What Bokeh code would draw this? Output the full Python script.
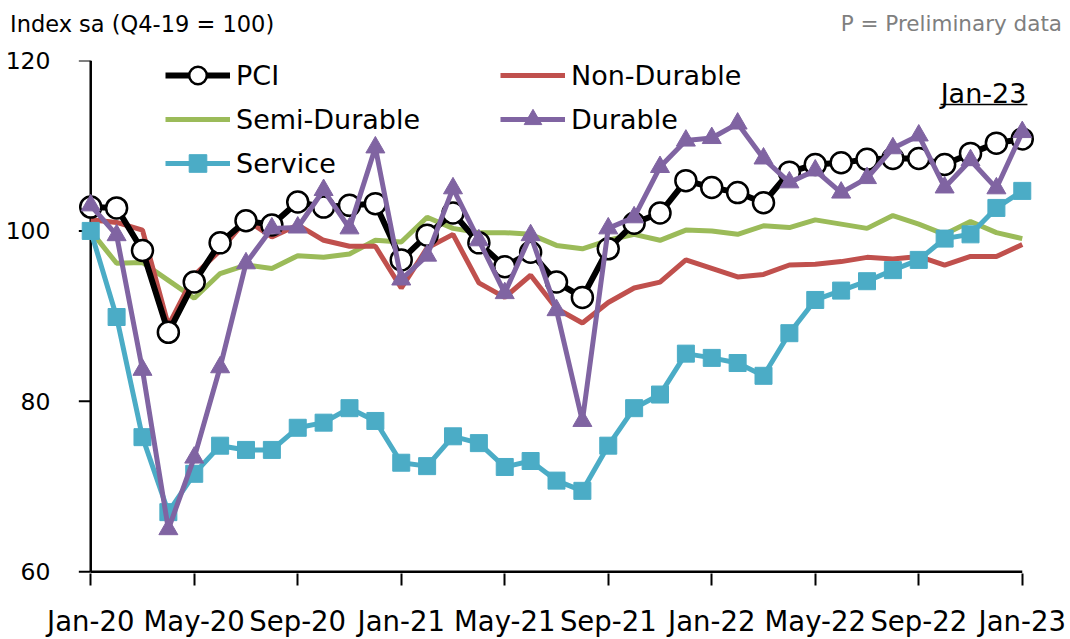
from bokeh.plotting import figure
from bokeh.models import Range1d, FixedTicker, Legend, LegendItem, Label, Div
from bokeh.layouts import column
from bokeh.embed import file_html
from bokeh.resources import INLINE

months = ["Jan-20", "Feb-20", "Mar-20", "Apr-20", "May-20", "Jun-20", "Jul-20", "Aug-20",
          "Sep-20", "Oct-20", "Nov-20", "Dec-20",
          "Jan-21", "Feb-21", "Mar-21", "Apr-21", "May-21", "Jun-21", "Jul-21", "Aug-21",
          "Sep-21", "Oct-21", "Nov-21", "Dec-21",
          "Jan-22", "Feb-22", "Mar-22", "Apr-22", "May-22", "Jun-22", "Jul-22", "Aug-22",
          "Sep-22", "Oct-22", "Nov-22", "Dec-22",
          "Jan-23"]

pci = [102.8, 102.7, 97.7, 88.1, 94.0, 98.6, 101.2, 100.7, 103.4, 102.8, 103.0, 103.2,
       96.6, 99.5, 102.1, 98.6, 95.8, 97.5, 94.0, 92.2, 97.9, 100.9, 102.1, 105.9,
       105.1, 104.5, 103.3, 106.9, 107.8, 108.0, 108.4, 108.5, 108.5, 107.8, 109.1, 110.3,
       110.8]
non_durable = [101.3, 101.0, 100.1, 88.9, 94.8, 97.7, 101.3, 99.3, 100.7, 98.9, 98.2, 98.2,
               93.3, 98.0, 99.6, 93.9, 92.2, 94.8, 90.9, 89.2, 91.6, 93.3, 94.0, 96.6,
               95.6, 94.6, 94.9, 96.0, 96.1, 96.4, 96.9, 96.7, 97.0, 96.0, 97.0, 97.0,
               98.4]
semi_durable = [100.0, 96.2, 96.3, 94.2, 92.1, 95.0, 96.0, 95.6, 97.1, 96.9, 97.3, 98.9,
                98.7, 101.6, 100.3, 99.8, 99.8, 99.6, 98.3, 97.9, 98.9, 99.6, 98.9, 100.1,
                100.0, 99.6, 100.6, 100.4, 101.3, 100.8, 100.3, 101.8, 100.8, 99.6, 101.1, 99.8,
                99.1]
durable = [103.0, 99.5, 83.7, 65.0, 73.4, 84.0, 96.2, 100.3, 100.4, 104.8, 100.3, 109.8,
           94.3, 97.1, 105.0, 98.9, 92.7, 99.5, 90.7, 77.7, 100.3, 101.6, 107.5, 110.6,
           110.9, 112.6, 108.5, 105.7, 107.1, 104.5, 106.2, 109.7, 111.2, 105.1, 108.3, 105.0,
           111.6]
service = [100.0, 89.9, 75.8, 67.0, 71.5, 74.8, 74.3, 74.3, 76.9, 77.5, 79.2, 77.7,
           72.8, 72.4, 75.9, 75.1, 72.3, 73.0, 70.7, 69.5, 74.8, 79.2, 80.8, 85.6,
           85.1, 84.5, 83.0, 88.0, 91.9, 93.0, 94.1, 95.4, 96.6, 99.1, 99.6, 102.7,
           104.7]

y_ticks = [60, 80, 100, 120]
x_ticks = list(range(0, len(months), 4))

FONT = "DejaVu Sans"
x = list(range(len(months)))
n_last = len(months) - 1

header = Div(
    text=('<div style="display:flex;justify-content:space-between;align-items:center;'
          'box-sizing:border-box;width:1070px;height:32px;margin-top:8px;'
          'padding-left:10px;padding-right:8px;font-family:\'DejaVu Sans\';">'
          '<span style="font-size:22.5px;color:black;">Index sa (Q4-19 = 100)</span>'
          '<span style="font-size:21.5px;color:#7F7F7F;">P = Preliminary data</span></div>'),
    width=1070, height=40, margin=0)

p = figure(width=1070, height=599, output_backend="svg", toolbar_location=None,
           x_range=Range1d(-0.55, n_last + 0.55), y_range=Range1d(59.8, 120),
           min_border_left=76, min_border_right=34, min_border_top=20, min_border_bottom=66,
           margin=0)
p.outline_line_color = None
p.xgrid.visible = False
p.ygrid.visible = False
p.background_fill_color = "white"

# axes
p.yaxis.ticker = FixedTicker(ticks=y_ticks)
p.yaxis.axis_line_color = None
p.yaxis.major_tick_line_color = None
p.yaxis.minor_tick_line_color = None
p.yaxis.major_label_text_font = FONT
p.yaxis.major_label_text_font_size = "23.5px"
p.yaxis.major_label_text_color = "black"
p.yaxis.major_label_standoff = 20

p.xaxis.ticker = FixedTicker(ticks=x_ticks)
p.xaxis.major_label_overrides = {t: months[t] for t in x_ticks}
p.xaxis.axis_line_color = None
p.xaxis.major_tick_out = 12
p.xaxis.major_tick_in = 0
p.xaxis.major_tick_line_width = 2
p.xaxis.major_tick_line_color = "black"
p.xaxis.minor_tick_line_color = None
p.xaxis.major_label_text_font = FONT
p.xaxis.major_label_text_font_size = "27.5px"
p.xaxis.major_label_text_color = "black"
p.xaxis.major_label_standoff = 19

# axis lines and y ticks drawn in data space
p.segment(x0=[0], y0=[y_ticks[0]], x1=[0], y1=[y_ticks[-1]], line_color="black", line_width=2.5)
p.segment(x0=[0], y0=[y_ticks[0]], x1=[n_last], y1=[y_ticks[0]], line_color="black", line_width=2.5)
p.segment(x0=[-0.46] * len(y_ticks), y0=y_ticks, x1=[0] * len(y_ticks), y1=y_ticks,
          line_color="black", line_width=2)

GREEN = "#9BBB59"
RED = "#C0504D"
PURPLE = "#8064A2"
TEAL = "#4BACC6"

g_line = p.line(x, semi_durable, line_color=GREEN, line_width=5)
r_line = p.line(x, non_durable, line_color=RED, line_width=5)
k_line = p.line(x, pci, line_color="black", line_width=6)
k_pts = p.scatter(x, pci, marker="circle", size=21, fill_color="white",
                  line_color="black", line_width=2.5)
s_line = p.line(x, service, line_color=TEAL, line_width=5)
s_pts = p.scatter(x, service, marker="square", size=17, fill_color=TEAL, line_color=TEAL)
d_line = p.line(x, durable, line_color=PURPLE, line_width=5)
d_pts = p.scatter(x, durable, marker="triangle", size=19, fill_color=PURPLE, line_color=PURPLE)

leg_style = dict(border_line_color=None, background_fill_alpha=0, padding=0, margin=0,
                 spacing=0, label_height=44, glyph_height=44, glyph_width=65,
                 label_standoff=6, label_text_font=FONT, label_text_font_size="27px",
                 label_text_color="black")
leg1 = Legend(items=[LegendItem(label="PCI", renderers=[k_line, k_pts]),
                     LegendItem(label="Semi-Durable", renderers=[g_line]),
                     LegendItem(label="Service", renderers=[s_line, s_pts])],
              location=(89, 388), **leg_style)
leg2 = Legend(items=[LegendItem(label="Non-Durable", renderers=[r_line]),
                     LegendItem(label="Durable", renderers=[d_line, d_pts])],
              location=(424, 432), **leg_style)
p.add_layout(leg1)
p.add_layout(leg2)

p.add_layout(Label(x=907, y=480, x_units="screen", y_units="screen",
                   text="Jan-23", text_font=FONT, text_font_size="27px",
                   text_baseline="middle", text_align="center", text_color="black"))
p.segment(x0=[32.84], y0=[114.84], x1=[36.2], y1=[114.84], line_color="black", line_width=1.5)

layout = column(header, p, spacing=0, margin=0)
open("out.html", "w").write(file_html(layout, INLINE))
